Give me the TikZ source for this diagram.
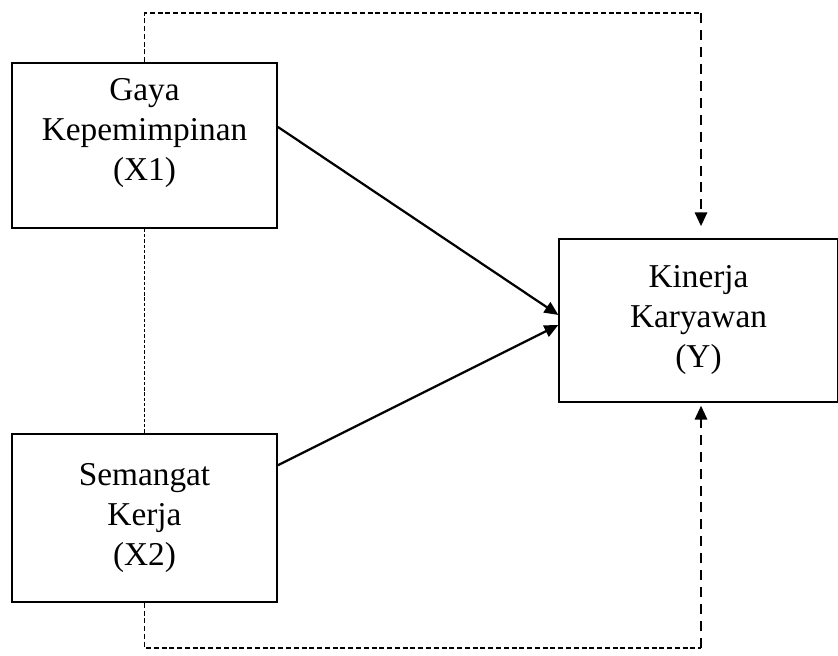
\documentclass[tikz,border=0pt]{standalone}
\usepackage{fontspec}
\setmainfont{Liberation Serif}
\usetikzlibrary{positioning, arrows.meta}

\tikzset{
  varbox/.style={draw, line width=0.6pt, inner sep=0pt},
  vartext/.style={align=center, font=\fontsize{12}{14.4}\selectfont},
  solidarrow/.style={line width=0.8pt, -{Triangle[length=5pt,width=4.4pt]}},
  thindash/.style={line width=0.5pt, dash pattern=on 1.8pt off 1pt},
  densedash/.style={line width=0.45pt, dash pattern=on 1.2pt off 0.7pt},
  thickdash/.style={line width=0.85pt, dash pattern=on 3.6pt off 2.5pt,
    -{Triangle[length=5pt,width=4.4pt]}}
}

\begin{document}
\begin{tikzpicture}[x=0.36pt, y=-0.36pt]
\useasboundingbox (0,0) rectangle (838,655);
\node[varbox, minimum width=95.4pt, minimum height=59.4pt] (x1) at (144.5,145.5) {};
\node[vartext] (x1t) at ([yshift=4.5pt]x1.center) {Gaya\\Kepemimpinan\\(X1)};
\node[varbox, vartext, minimum width=95.4pt, minimum height=60.5pt] (x2) at (144.5,518)
    {Semangat\\Kerja\\(X2)};
\node[varbox, vartext, minimum width=100.3pt, minimum height=58.7pt] (y) at (698.5,320.5)
    {Kinerja\\Karyawan\\(Y)};
\coordinate (topR) at (701,13);
\coordinate (botR) at (701,648);
\draw[densedash] (x1.south) -- (x2.north);
\draw[solidarrow] ([yshift=6.7pt]x1.east) -- ([yshift=2pt]y.west);
\draw[solidarrow] ([yshift=19pt]x2.east) -- ([yshift=-1.6pt]y.west);
\draw[thindash] (x1.north) |- (topR);
\draw[thickdash, shorten >=4.3pt] (topR) -- (topR |- y.north);
\draw[thindash] (x2.south) |- (botR);
\draw[thickdash, shorten >=1pt] (botR) -- (botR |- y.south);
\end{tikzpicture}
\end{document}
